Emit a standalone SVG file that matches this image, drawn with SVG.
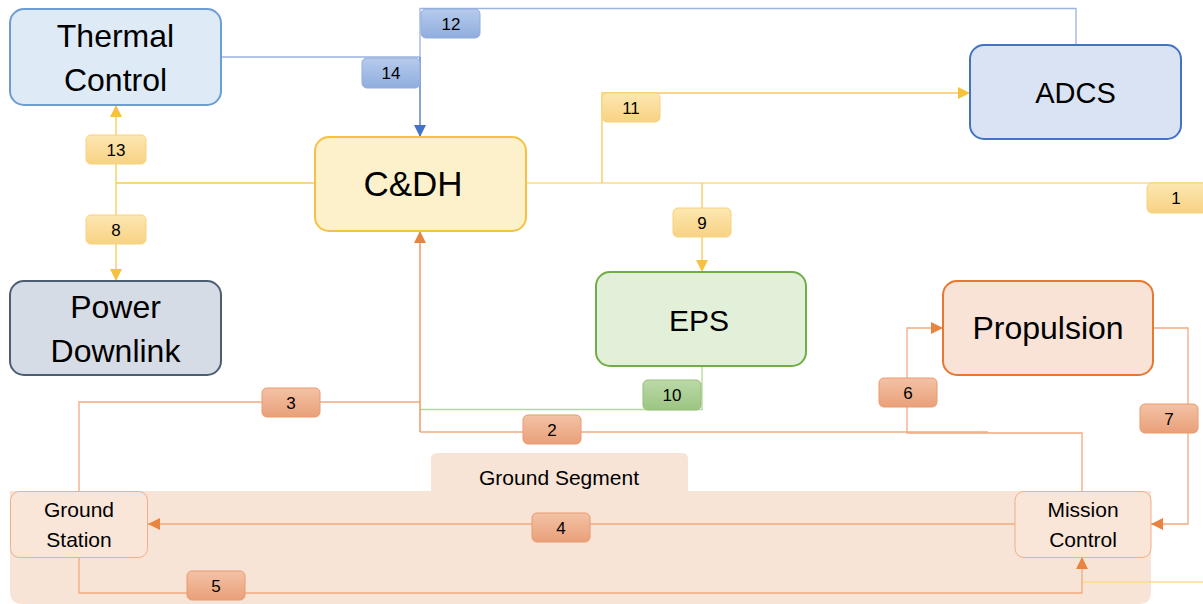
<svg xmlns="http://www.w3.org/2000/svg" width="1203" height="604" viewBox="0 0 1203 604">
  <style>
    text { font-family: "Liberation Sans", Arial, sans-serif; fill: #000; text-anchor: middle; }
    .big { font-size: 32px; }
    .mid { font-size: 21px; }
    .lbl { font-size: 17px; }
    .node { stroke-width: 2; }
    .conn { fill: none; stroke-width: 1.3; }
    .y { stroke: #f8ca55; }
    .y1 { stroke: #fbdc8e; }
    .b { stroke: #9bb3e0; }
    .bd { stroke: #4a72c4; }
    .o { stroke: #f2aa80; }
    .od { stroke: #e98a4e; }
    .g { stroke: #b3d69c; }
  </style>
  <defs>
    <marker id="arrY" markerUnits="userSpaceOnUse" markerWidth="12" markerHeight="12" refX="12" refY="6" orient="auto">
      <path d="M0,0 L12,6 L0,12 z" fill="#f6c23e"/>
    </marker>
    <marker id="arrB" markerUnits="userSpaceOnUse" markerWidth="12" markerHeight="12" refX="12" refY="6" orient="auto">
      <path d="M0,0 L12,6 L0,12 z" fill="#4472c4"/>
    </marker>
    <marker id="arrO" markerUnits="userSpaceOnUse" markerWidth="12" markerHeight="12" refX="12" refY="6" orient="auto">
      <path d="M0,0 L12,6 L0,12 z" fill="#e7843f"/>
    </marker>
    <linearGradient id="gY" x1="0" y1="0" x2="0" y2="1">
      <stop offset="0" stop-color="#fde7b2"/>
      <stop offset="1" stop-color="#f8d283"/>
    </linearGradient>
    <linearGradient id="gB" x1="0" y1="0" x2="0" y2="1">
      <stop offset="0" stop-color="#b7cbec"/>
      <stop offset="1" stop-color="#8fadde"/>
    </linearGradient>
    <linearGradient id="gO" x1="0" y1="0" x2="0" y2="1">
      <stop offset="0" stop-color="#f3c2a6"/>
      <stop offset="1" stop-color="#e9a079"/>
    </linearGradient>
    <linearGradient id="gG" x1="0" y1="0" x2="0" y2="1">
      <stop offset="0" stop-color="#bcd9a8"/>
      <stop offset="1" stop-color="#9cc582"/>
    </linearGradient>
  </defs>

  <rect width="1203" height="604" fill="#ffffff"/>

  <!-- ground segment container with its tab -->
  <g id="ground-segment">
    <path d="M437,453 H682 Q688,453 688,459 V491 H1151 V592 Q1151,604 1139,604 H22 Q10,604 10,592 V491 H431 V459 Q431,453 437,453 Z" fill="#f7e4d7"/>
    <text class="mid" x="559" y="485">Ground Segment</text>
  </g>

  <!-- connectors -->
  <g id="connectors">
    <!-- 1: C&DH out to the right edge, back in to Mission Control -->
    <path class="conn y1" d="M526,183 H1215 V582 H1082"/>
    <!-- 8 / 13: C&DH to Power Downlink and Thermal Control -->
    <path class="conn y" d="M315,183 H116"/>
    <path class="conn y" d="M116,183 V105" marker-end="url(#arrY)"/>
    <path class="conn y" d="M116,183 V281" marker-end="url(#arrY)"/>
    <!-- 9: C&DH to EPS -->
    <path class="conn y" d="M702,183 V272" marker-end="url(#arrY)"/>
    <!-- 11: C&DH to ADCS -->
    <path class="conn y" d="M602,183 V93 H970" marker-end="url(#arrY)"/>
    <!-- 12: ADCS to C&DH -->
    <path class="conn b" d="M1076,45 V8.5 H420 V57"/>
    <!-- 14: Thermal Control to C&DH -->
    <path class="conn b" d="M221,57 H420"/>
    <path class="conn bd" d="M420,57 V137" marker-end="url(#arrB)"/>
    <!-- 10: EPS to C&DH -->
    <path class="conn g" d="M702,366 V409.5 H420"/>
    <!-- 3: Ground Station to C&DH -->
    <path class="conn o" d="M79,491 V402 H420"/>
    <path class="conn od" d="M420,432 V231" marker-end="url(#arrO)"/>
    <!-- 2: Mission Control to C&DH -->
    <path class="conn o" d="M988,432 H420"/>
    <!-- 6: Mission Control to Propulsion -->
    <path class="conn o" d="M1082,491 V433 H907 V328 H943" marker-end="url(#arrO)"/>
    <!-- 7: Propulsion to Mission Control -->
    <path class="conn o" d="M1153,328 H1188 V524 H1151" marker-end="url(#arrO)"/>
    <!-- 4: Mission Control to Ground Station -->
    <path class="conn o" d="M1015,524 H148" marker-end="url(#arrO)"/>
    <!-- 5: Ground Station to Mission Control -->
    <path class="conn o" d="M79,557 V593 H1082 V557" marker-end="url(#arrO)"/>
  </g>

  <!-- connector labels -->
  <g id="labels">
    <rect x="1147" y="183" width="60" height="30" rx="5" fill="url(#gY)" stroke="#f7d27c"/>
    <text class="lbl" x="1176" y="204">1</text>
    <rect x="523" y="415" width="58" height="29" rx="5" fill="url(#gO)" stroke="#ea9a6c"/>
    <text class="lbl" x="552" y="436">2</text>
    <rect x="262" y="388" width="58" height="29" rx="5" fill="url(#gO)" stroke="#ea9a6c"/>
    <text class="lbl" x="291" y="409">3</text>
    <rect x="532" y="513" width="58" height="29" rx="5" fill="url(#gO)" stroke="#ea9a6c"/>
    <text class="lbl" x="561" y="534">4</text>
    <rect x="187" y="571" width="58" height="29" rx="5" fill="url(#gO)" stroke="#ea9a6c"/>
    <text class="lbl" x="216" y="592">5</text>
    <rect x="879" y="378" width="58" height="29" rx="5" fill="url(#gO)" stroke="#ea9a6c"/>
    <text class="lbl" x="908" y="399">6</text>
    <rect x="1140" y="404" width="58" height="29" rx="5" fill="url(#gO)" stroke="#ea9a6c"/>
    <text class="lbl" x="1169" y="425">7</text>
    <rect x="86" y="215" width="60" height="29" rx="5" fill="url(#gY)" stroke="#f7d27c"/>
    <text class="lbl" x="116" y="236">8</text>
    <rect x="673" y="208" width="58" height="29" rx="5" fill="url(#gY)" stroke="#f7d27c"/>
    <text class="lbl" x="702" y="229">9</text>
    <rect x="643" y="380" width="58" height="30" rx="5" fill="url(#gG)" stroke="#95c07a"/>
    <text class="lbl" x="672" y="401">10</text>
    <rect x="602" y="93" width="58" height="29" rx="5" fill="url(#gY)" stroke="#f7d27c"/>
    <text class="lbl" x="631" y="114">11</text>
    <rect x="421" y="9" width="59" height="29" rx="5" fill="url(#gB)" stroke="#91addd"/>
    <text class="lbl" x="451" y="30">12</text>
    <rect x="86" y="135" width="60" height="29" rx="5" fill="url(#gY)" stroke="#f7d27c"/>
    <text class="lbl" x="116" y="156">13</text>
    <rect x="362" y="58" width="58" height="30" rx="5" fill="url(#gB)" stroke="#91addd"/>
    <text class="lbl" x="391" y="79">14</text>
  </g>

  <!-- subsystem nodes -->
  <g id="thermal-control">
    <rect class="node" x="10" y="9" width="211" height="96" rx="14" fill="#deeaf6" stroke="#6d9dd3"/>
    <text class="big" x="115.5" y="47">Thermal</text>
    <text class="big" x="115.5" y="91">Control</text>
  </g>
  <g id="power-downlink">
    <rect class="node" x="10" y="281" width="211" height="94" rx="14" fill="#d6dce5" stroke="#4e5e72"/>
    <text class="big" x="115.5" y="318">Power</text>
    <text class="big" x="115.5" y="362">Downlink</text>
  </g>
  <g id="cdh">
    <rect class="node" x="315" y="137" width="211" height="94" rx="14" fill="#fdf1cc" stroke="#f6c142"/>
    <text class="big" x="413" y="196" style="font-size:35px">C&amp;DH</text>
  </g>
  <g id="adcs">
    <rect class="node" x="970" y="45" width="211" height="94" rx="14" fill="#dae3f3" stroke="#4472c4"/>
    <text class="big" x="1075.5" y="103" style="font-size:29px">ADCS</text>
  </g>
  <g id="eps">
    <rect class="node" x="596" y="272" width="210" height="94" rx="14" fill="#e2f0d9" stroke="#70ad47"/>
    <text class="big" x="699" y="331" style="font-size:30px">EPS</text>
  </g>
  <g id="propulsion">
    <rect class="node" x="943" y="281" width="210" height="94" rx="14" fill="#f8e3d6" stroke="#e7782f"/>
    <text class="big" x="1048" y="339">Propulsion</text>
  </g>
  <g id="ground-station">
    <rect x="10.5" y="491.5" width="137" height="66" rx="9" fill="#fae6d9" stroke="#f2ae85" stroke-width="1"/>
    <text class="mid" x="79" y="517">Ground</text>
    <text class="mid" x="79" y="547">Station</text>
  </g>
  <g id="mission-control">
    <rect x="1015" y="491.5" width="136" height="66" rx="9" fill="#fae6d9" stroke="#f2ae85" stroke-width="1"/>
    <text class="mid" x="1083" y="517">Mission</text>
    <text class="mid" x="1083" y="547">Control</text>
  </g>
</svg>
